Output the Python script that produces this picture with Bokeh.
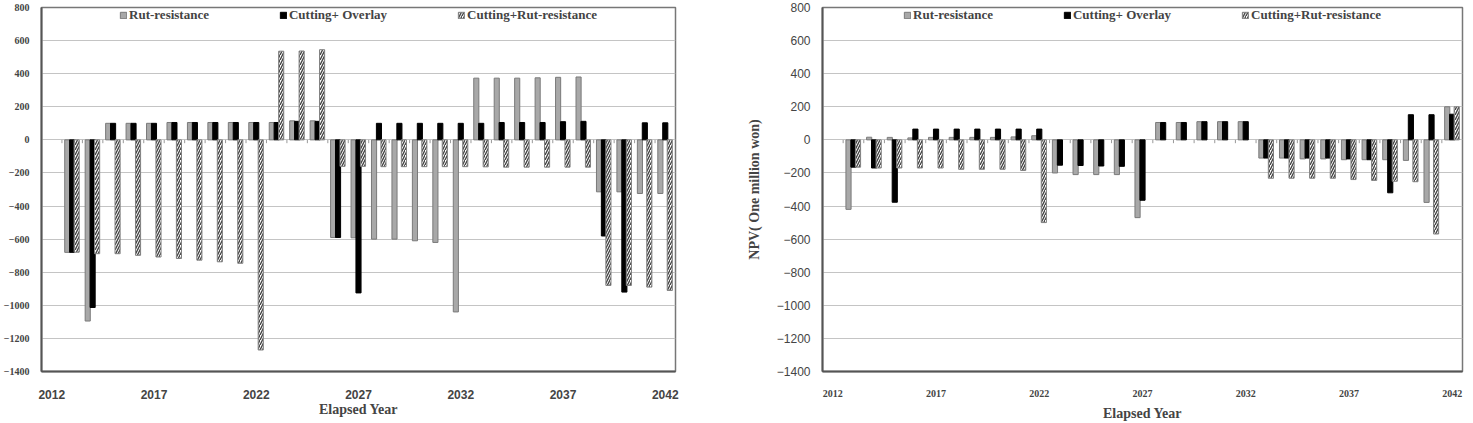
import numpy as np
from bokeh.plotting import figure
from bokeh.layouts import row
from bokeh.models import FixedTicker, Legend, LegendItem, ColumnDataSource, Range1d
from bokeh.transform import dodge
from bokeh.embed import file_html
from bokeh.resources import INLINE

years = list(range(2012, 2043))
x_tick_years = [2012, 2017, 2022, 2027, 2032, 2037, 2042]
y_ticks = list(range(-1400, 801, 200))
series_names = ["Rut-resistance", "Cutting+ Overlay", "Cutting+Rut-resistance"]

# Left chart
left_rut = [0, -680, -1095, 100, 100, 100, 105, 105, 105, 105, 105, 105, 115, 115,
            -590, -592, -600, -600, -610, -620, -1040, 373, 373, 373, 375, 378, 380,
            -314, -314, -324, -324]
left_cut_overlay = [0, -680, -1013, 100, 100, 100, 105, 105, 105, 105, 105, 105, 112, 112,
                    -590, -925, 100, 100, 100, 100, 100, 100, 105, 105, 105, 110, 112,
                    -581, -920, 103, 103]
left_cut_rut = [0, -679, -688, -688, -698, -708, -717, -727, -737, -746, -1270, 536, 537, 545,
                -160, -160, -162, -162, -162, -162, -162, -163, -165, -165, -165, -165, -165,
                -880, -880, -890, -910]

# Right chart
right_rut = [0, -420, 16, 15, 12, 15, 15, 15, 15, 18, 25, -200, -210, -210, -210, -470,
             105, 105, 110, 110, 110, -110, -110, -115, -115, -120, -120, -120, -124, -378, 200]
right_cut_overlay = [0, -165, -170, -377, 65, 65, 65, 65, 65, 65, 65, -153, -155, -158, -160, -365,
                     105, 105, 110, 110, 110, -110, -110, -110, -110, -115, -120, -320, 152, 152, 155]
right_cut_rut = [0, -165, -170, -170, -170, -170, -178, -178, -178, -185, -500, 0, 0, 0, 0, 0,
                 0, 0, 0, 0, 0, -232, -232, -232, -232, -240, -245, -250, -253, -569, 200]


def nz(vals):
    return [np.nan if v == 0 else v for v in vals]


def build(rut, cov, crut, width, bl, br, bb, xfont, xsize, xstand, yfont, ysize, ystyle,
          ylabel=None, title_size="14px", title_stand=0):
    p = figure(width=width, height=423, x_range=Range1d(2011.5, 2042.5),
               y_range=Range1d(-1400, 800), output_backend="svg", toolbar_location=None,
               min_border_left=bl, min_border_right=br, min_border_top=7, min_border_bottom=bb,
               background_fill_color="white", border_fill_color="white")
    src = ColumnDataSource(dict(year=years, rut=nz(rut), cov=nz(cov), crut=nz(crut)))
    r1 = p.vbar(x=dodge("year", -0.24, range=p.x_range), top="rut", bottom=0, width=0.25,
                source=src, fill_color="#a8a8a8", line_color="#7a7a7a", line_width=1)
    r2 = p.vbar(x=dodge("year", 0.0, range=p.x_range), top="cov", bottom=0, width=0.25,
                source=src, fill_color="black", line_color="black", line_width=1)
    r3 = p.vbar(x=dodge("year", 0.22, range=p.x_range), top="crut", bottom=0, width=0.25,
                source=src, fill_color="white", line_color="#808080", line_width=1,
                hatch_pattern="right_diagonal_line", hatch_color="#444444",
                hatch_scale=5, hatch_weight=1.4)
    bounds = [y + 0.5 for y in years[:-1]]
    p.segment(x0=bounds, y0=[0] * len(bounds), x1=bounds, y1=[-20] * len(bounds),
              line_color="#999999", line_width=1)

    legend = Legend(items=[LegendItem(label=series_names[0], renderers=[r1]),
                           LegendItem(label=series_names[1], renderers=[r2]),
                           LegendItem(label=series_names[2], renderers=[r3])],
                    orientation="horizontal", location="top_center",
                    margin=0, padding=3, spacing=70, glyph_width=8, glyph_height=8,
                    label_standoff=2, label_height=16,
                    label_text_font="Liberation Serif", label_text_font_style="bold",
                    label_text_font_size="13px", background_fill_alpha=0,
                    border_line_color=None)
    p.add_layout(legend)

    p.xaxis.ticker = FixedTicker(ticks=x_tick_years)
    p.xaxis.major_tick_line_color = None
    p.xaxis.minor_tick_line_color = None
    p.xaxis.axis_line_color = "#555555"
    p.xaxis.axis_line_width = 2
    p.xaxis.major_label_text_font = xfont
    p.xaxis.major_label_text_font_style = "bold"
    p.xaxis.major_label_text_font_size = xsize
    p.xaxis.major_label_standoff = xstand
    p.xaxis.axis_label = "Elapsed Year"
    p.xaxis.axis_label_text_font = "Liberation Serif"
    p.xaxis.axis_label_text_font_style = "bold"
    p.xaxis.axis_label_text_font_size = title_size
    p.xaxis.axis_label_standoff = title_stand

    p.yaxis.ticker = FixedTicker(ticks=y_ticks)
    p.yaxis.major_tick_line_color = None
    p.yaxis.minor_tick_line_color = None
    p.yaxis.axis_line_color = "#555555"
    p.yaxis.axis_line_width = 2
    p.yaxis.major_label_text_font = yfont
    p.yaxis.major_label_text_font_style = ystyle
    p.yaxis.major_label_text_font_size = ysize
    p.yaxis.major_label_standoff = 6
    if ylabel:
        p.yaxis.axis_label = ylabel
        p.yaxis.axis_label_text_font = "Liberation Serif"
        p.yaxis.axis_label_text_font_style = "bold"
        p.yaxis.axis_label_text_font_size = "14px"
        p.yaxis.axis_label_standoff = 12

    p.xgrid.grid_line_color = None
    p.ygrid.ticker = FixedTicker(ticks=y_ticks)
    p.ygrid.grid_line_color = "#c4c4c4"
    p.ygrid.grid_line_width = 1
    p.outline_line_color = "#777777"
    p.outline_line_width = 1.5
    p.outline_line_alpha = 1
    return p


left = build(left_rut, left_cut_overlay, left_cut_rut, width=720, bl=26, br=45, bb=40,
             xfont="Liberation Sans", xsize="12px", xstand=12,
             yfont="Liberation Serif", ysize="10px", ystyle="bold",
             title_size="14px", title_stand=0)
right = build(right_rut, right_cut_overlay, right_cut_rut, width=753, bl=102, br=11, bb=50,
              xfont="Liberation Serif", xsize="10px", xstand=12,
              yfont="Liberation Sans", ysize="12px", ystyle="normal",
              ylabel="NPV( One million won)", title_size="14px", title_stand=6)

layout = row(left, right)
open("out.html", "w").write(file_html(layout, INLINE))
